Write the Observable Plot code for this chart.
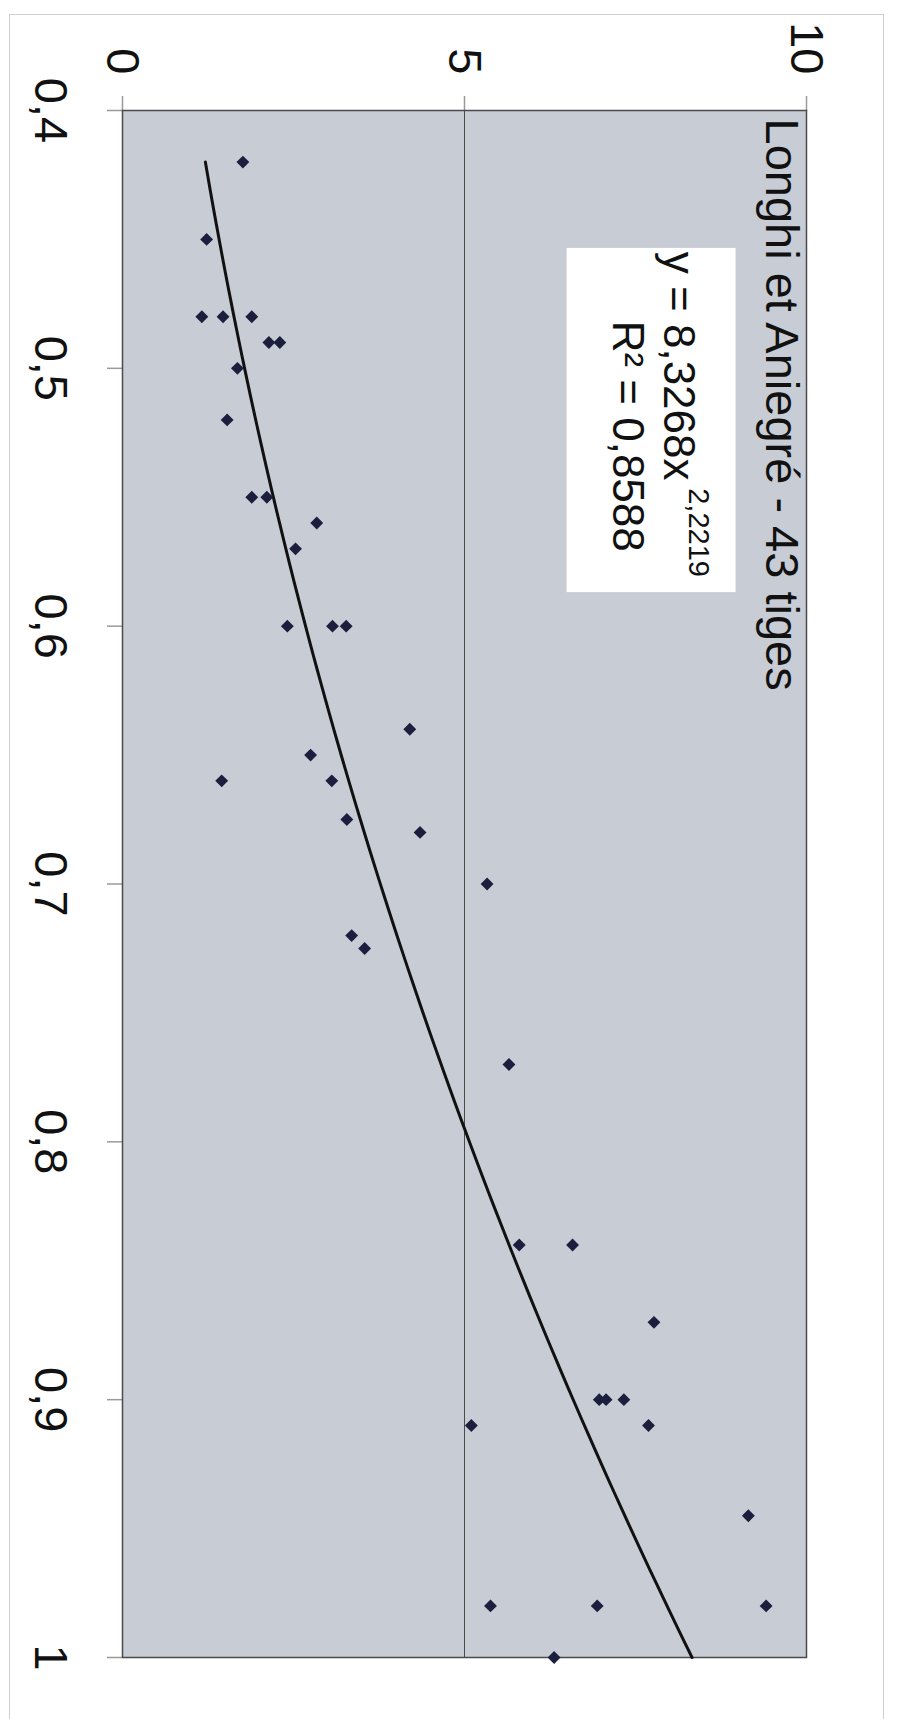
<!DOCTYPE html>
<html>
<head>
<meta charset="utf-8">
<script src="https://cdn.jsdelivr.net/npm/d3@7"></script>
<script src="https://cdn.jsdelivr.net/npm/@observablehq/plot@0.6"></script>
<style>
  html, body { margin: 0; padding: 0; background: #ffffff; overflow: hidden; }
  #wrap { position: relative; width: 897px; height: 1719px; }
  #border { position: absolute; left: 9px; top: 14px; width: 875px; height: 1720px;
            border: 1.5px solid #cfcfcf; border-bottom: none; box-sizing: border-box; }
  #chart { position: absolute; left: 0; top: 0; }
</style>
</head>
<body>
<div id="wrap"><div id="border"></div><div id="chart"></div></div>
<script>
// ---- data ----
const title = "Longhi et Aniegré - 43 tiges";
// diameter (horizontal axis of the original chart)
const diam = [0.42, 0.45, 0.48, 0.48, 0.48, 0.49, 0.49, 0.50, 0.52, 0.55, 0.55, 0.56, 0.57,
              0.60, 0.60, 0.60, 0.64, 0.65, 0.66, 0.66, 0.675, 0.68, 0.70, 0.72, 0.725,
              0.77, 0.84, 0.84, 0.87, 0.90, 0.90, 0.90, 0.91, 0.91, 0.945, 0.98, 0.98, 0.98, 1.00];
// measured value (vertical axis of the original chart)
const value = [1.76, 1.23, 1.16, 1.47, 1.89, 2.14, 2.30, 1.68, 1.53, 1.89, 2.11, 2.84, 2.53,
               2.41, 3.07, 3.27, 4.20, 2.75, 1.45, 3.06, 3.28, 4.35, 5.33, 3.35, 3.54,
               5.65, 5.80, 6.58, 7.77, 6.97, 7.07, 7.33, 5.10, 7.69, 9.15, 5.38, 6.94, 9.41, 6.31];
const diamTicks = [0.4, 0.5, 0.6, 0.7, 0.8, 0.9, 1.0];
const diamTickLabels = ["0,4", "0,5", "0,6", "0,7", "0,8", "0,9", "1"];
const valueTicks = [0, 5, 10];
const valueTickLabels = ["0", "5", "10"];
// power trend line  y = a * x^b
const trendA = 8.3268;
const trendB = 2.2219;
const eqMain = "y = 8,3268x";
const eqExp = "2,2219";
const eqR2 = "R² = 0,8588";

// ---- build ----
const points = diam.map((d, i) => ({d, v: value[i]}));
const dMin = d3.min(diam), dMax = d3.max(diam);
const trend = d3.range(0, 101).map(k => {
  const d = dMin + (dMax - dMin) * k / 100;
  return {d, v: trendA * Math.pow(d, trendB)};
});

// annotation placement (in data space)
const eqBox = [{x1: 6.5, x2: 8.97, y1: 0.4535, y2: 0.587}];
const eqLines = [
  {v: 8.12, d: 0.4548, t: eqMain, fs: 44},
  {v: 7.38, d: 0.4815, t: eqR2, fs: 44}
];
const eqSup = [{v: 8.42, d: 0.5465, t: eqExp}];

const FONT = "'Liberation Sans', Arial, sans-serif";
const INK = "#111111";

const chart = Plot.plot({
  width: 897,
  height: 1719,
  marginLeft: 122,
  marginRight: 91,
  marginTop: 110,
  marginBottom: 62,
  x: {domain: [0, 10], axis: null},
  y: {domain: [0.4, 1], reverse: true, axis: null},
  style: {background: "transparent", fontFamily: FONT},
  marks: [
    Plot.frame({fill: "#c8ccd5"}),
    Plot.ruleX([5], {stroke: "#4a4a4a", strokeWidth: 1}),
    Plot.axisX({anchor: "top", ticks: valueTicks, tickSize: 15, tickFormat: () => "", stroke: "#9a9a9a", strokeWidth: 1.5}),
    Plot.axisY({anchor: "left", ticks: diamTicks, tickSize: 15, tickFormat: () => "", stroke: "#9a9a9a", strokeWidth: 1.5}),
    Plot.frame({stroke: "#4a4a4a", strokeWidth: 1.5}),
    Plot.rect(eqBox, {x1: "x1", x2: "x2", y1: "y1", y2: "y2", fill: "#ffffff"}),
    Plot.line(trend, {x: "v", y: "d", stroke: "#111111", strokeWidth: 3}),
    Plot.dot(points, {x: "v", y: "d", symbol: "diamond2", r: 5.8, fill: "#1b1f3d", stroke: "none"}),
    // title (inside the plot area, rotated like the rest of the page)
    Plot.text([title], {text: d => d, frameAnchor: "top-right", rotate: 90, textAnchor: "start",
      lineAnchor: "top", dx: -7, dy: 8, fontSize: 47, fill: INK}),
    // equation
    Plot.text(eqLines, {x: "v", y: "d", text: "t", rotate: 90, textAnchor: "start", lineAnchor: "middle",
      fontSize: 44, fill: INK}),
    Plot.text(eqSup, {x: "v", y: "d", text: "t", rotate: 90, textAnchor: "start", lineAnchor: "middle",
      fontSize: 29, fill: INK}),
    // tick labels
    Plot.text(valueTicks, {x: d => d, text: (d, i) => valueTickLabels[i], frameAnchor: "top", rotate: 90,
      textAnchor: "end", lineAnchor: "middle", dy: -36, fontSize: 47, fill: INK}),
    Plot.text(diamTicks, {y: d => d, text: (d, i) => diamTickLabels[i], frameAnchor: "left", rotate: 90,
      textAnchor: "middle", lineAnchor: "top", dx: -54, fontSize: 47, fill: INK})
  ]
});
document.getElementById("chart").appendChild(chart);
</script>
</body>
</html>
